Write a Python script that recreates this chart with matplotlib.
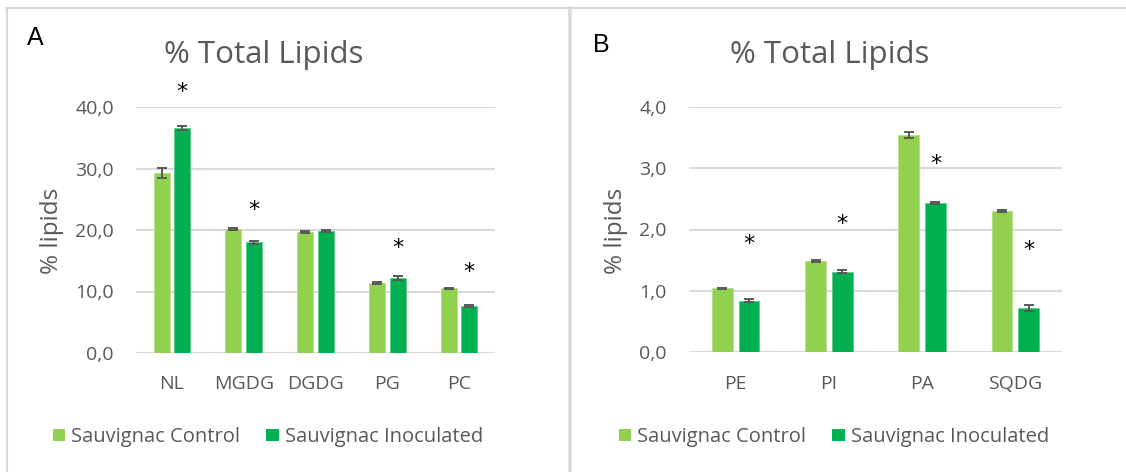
import matplotlib
matplotlib.use("Agg")
import matplotlib.pyplot as plt
from matplotlib.patches import Patch
from matplotlib.lines import Line2D
import numpy as np

# ---- data ----
cats_a = ["NL", "MGDG", "DGDG", "PG", "PC"]
control_a = [29.3, 20.2, 19.7, 11.4, 10.5]
control_a_err = [0.85, 0.15, 0.15, 0.15, 0.15]
inoc_a = [36.6, 18.0, 19.8, 12.2, 7.6]
inoc_a_err = [0.3, 0.2, 0.15, 0.25, 0.2]
star_a = [42.4, 23.3, None, 17.1, 13.1]
yticks_a = [0, 10, 20, 30, 40]

cats_b = ["PE", "PI", "PA", "SQDG"]
control_b = [1.04, 1.49, 3.54, 2.30]
control_b_err = [0.01, 0.015, 0.05, 0.02]
inoc_b = [0.84, 1.31, 2.43, 0.72]
inoc_b_err = [0.02, 0.025, 0.01, 0.045]
star_b = [1.76, 2.09, 3.07, 1.67]
yticks_b = [0, 1, 2, 3, 4]

series_names = ["Sauvignac Control", "Sauvignac Inoculated"]
title = "% Total Lipids"
ylabel = "% lipids"

# ---- style ----
C_CTRL = "#92D050"
C_INOC = "#00B050"
TXT = "#595959"
GRID = "#D9D9D9"
FONT = ["Open Sans", "DejaVu Sans"]
plt.rcParams["font.family"] = FONT

W, H = 1126, 472
fig = plt.figure(figsize=(W / 100, H / 100), dpi=100)
fig.patch.set_facecolor("white")


def px(x, y):
    return x / W, 1 - y / H


def make_panel(rect, cats, ctrl, ctrl_err, inoc, inoc_err, stars, yticks, fmt):
    ax = fig.add_axes(rect)
    x = np.arange(len(cats))
    bw = 0.222
    off = 0.143
    ekw = dict(ecolor=TXT, elinewidth=1.4, capsize=3.8, capthick=1.4)
    ax.bar(x - off, ctrl, bw, color=C_CTRL, yerr=ctrl_err, error_kw=ekw, zorder=3,
           edgecolor="#B5E08A", linewidth=0.6)
    ax.bar(x + off, inoc, bw, color=C_INOC, yerr=inoc_err, error_kw=ekw, zorder=3,
           edgecolor="#5CCB8A", linewidth=0.6)
    for xi, s in zip(x, stars):
        if s is not None:
            ax.text(xi + off, s, "*", ha="center", va="center", fontsize=16,
                    color="black", family=["DejaVu Sans"], clip_on=False)
    ax.set_xlim(-0.5, len(cats) - 0.5)
    ax.set_ylim(yticks[0], yticks[-1])
    ax.set_yticks(yticks)
    ax.set_yticklabels([fmt(v) for v in yticks])
    ax.set_xticks(x)
    ax.set_xticklabels(cats)
    ax.tick_params(axis="y", length=0, pad=16, labelsize=14, labelcolor=TXT)
    ax.tick_params(axis="x", length=0, pad=16, labelsize=14, labelcolor=TXT)
    ax.grid(axis="y", color=GRID, linewidth=1.5, zorder=0)
    ax.set_axisbelow(True)
    for sp in ax.spines.values():
        sp.set_visible(False)
    ax.set_facecolor("none")
    return ax


fmt = lambda v: f"{v:.1f}".replace(".", ",")

make_panel([136 / W, 1 - 353 / H, 359 / W, 246 / H], cats_a, control_a, control_a_err,
           inoc_a, inoc_a_err, star_a, yticks_a, fmt)
make_panel([689 / W, 1 - 352.3 / H, 373 / W, 245.6 / H], cats_b, control_b, control_b_err,
           inoc_b, inoc_b_err, star_b, yticks_b, fmt)

# titles, labels
for cx in (264, 830):
    fig.text(*px(cx, 63), title, ha="center", va="baseline", fontsize=22.5, color=TXT)
fig.text(*px(52, 231), ylabel, rotation=90, ha="center", va="center", fontsize=17.5, color=TXT)
fig.text(*px(616, 231), ylabel, rotation=90, ha="center", va="center", fontsize=17.5, color=TXT)
fig.text(*px(27, 45), "A", ha="left", va="baseline", fontsize=18, color="black",
         family=["Liberation Sans"])
fig.text(*px(593, 52), "B", ha="left", va="baseline", fontsize=18, color="black",
         family=["Liberation Sans"])

# legends
handles = [Patch(facecolor=C_CTRL, edgecolor="none"), Patch(facecolor=C_INOC, edgecolor="none")]
for cx in (268, 834):
    lg = fig.legend(handles, series_names, loc="center", bbox_to_anchor=px(cx, 437),
                    ncol=2, frameon=False, fontsize=14.5, handlelength=0.6, handleheight=0.6,
                    handletextpad=0.3, columnspacing=1.3, labelcolor=TXT)

# panel frames
fig.add_artist(Line2D([6 / W, 1], [1 - 8 / H] * 2, color="#D9D9D9", lw=1.5))
fig.add_artist(Line2D([7 / W] * 2, [0, 1 - 8 / H], color="#D9D9D9", lw=1.5))
fig.add_artist(Line2D([570 / W] * 2, [0, 1 - 8 / H], color="#D9D9D9", lw=2.6))

fig.savefig("out.png", dpi=100, facecolor="white")
